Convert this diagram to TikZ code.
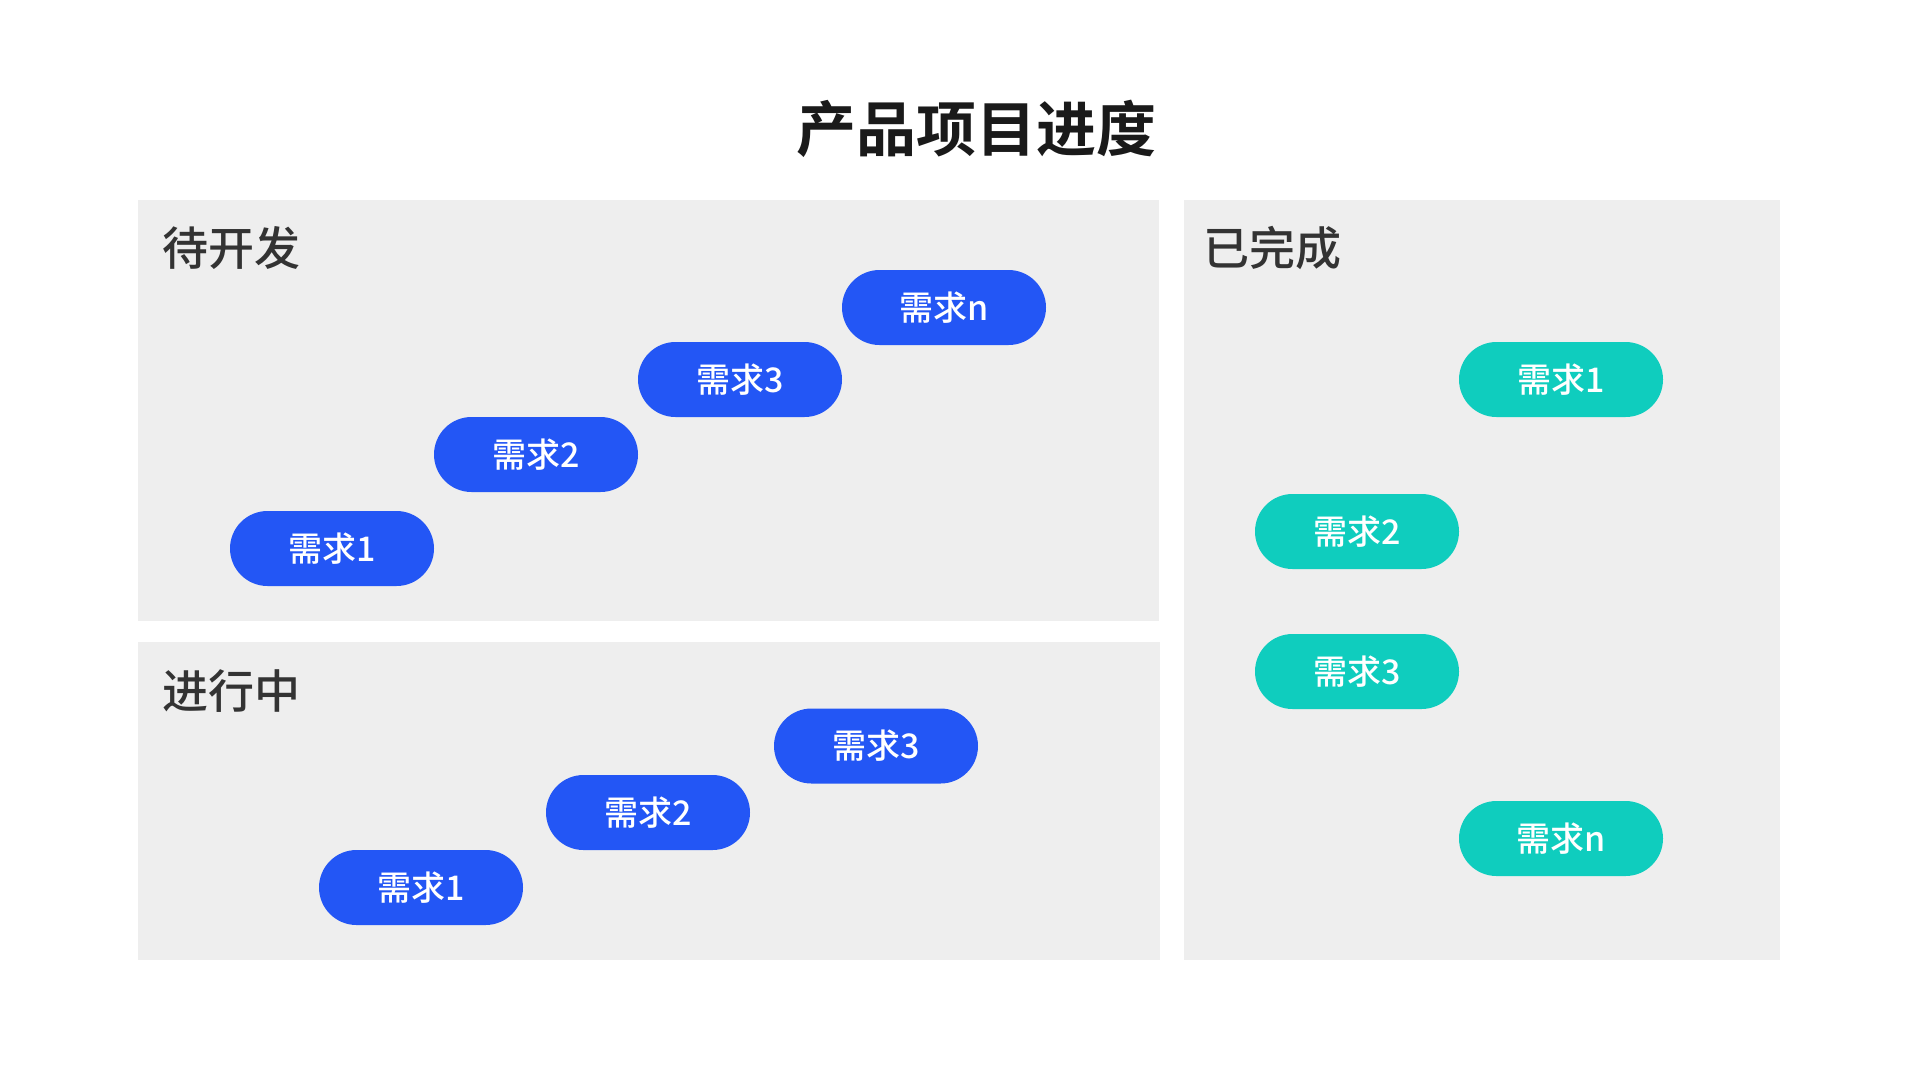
\documentclass[tikz,border=0pt]{standalone}
\usepackage{fontspec}
\setmainfont{Noto Sans CJK SC}[BoldFont={Noto Sans CJK SC Bold}]
\newfontfamily\cjkmed{Noto Sans CJK SC Medium}
\definecolor{panelgray}{HTML}{EEEEEE}
\definecolor{reqblue}{HTML}{2356F5}
\definecolor{reqteal}{HTML}{0FCDBE}
\definecolor{headgray}{HTML}{333333}
\definecolor{titleblack}{HTML}{1A1A1A}

\begin{document}
\begin{tikzpicture}[x=1pt,y=-1pt,
    req/.style={rectangle, rounded corners=37.5pt, minimum width=204pt,
      minimum height=75pt, inner sep=0pt, text=white,
      font=\cjkmed\fontsize{34}{34}\selectfont},
    todo/.style={req, fill=reqblue},
    done/.style={req, fill=reqteal},
    head/.style={anchor=west, inner sep=0pt, text=headgray,
      font=\cjkmed\fontsize{46}{46}\selectfont}]
    \useasboundingbox[fill=white] (0,0) rectangle (1920,1080);

    \node[inner sep=0pt, text=titleblack, font=\bfseries\fontsize{60}{60}\selectfont]
      (title) at (976,129) {产品项目进度};

    \fill[panelgray] (138,200) rectangle (1159,621);
    \fill[panelgray] (138,642) rectangle (1160,960);
    \fill[panelgray] (1184,200) rectangle (1780,960);

    \node[head] (dkf) at (162,248) {待开发};
    \node[head] (jxz) at (162,691) {进行中};
    \node[head] (ywc) at (1203,248) {已完成};

    \node[todo] (dk1) at (332,548.5) {需求1};
    \node[todo] (dk2) at (536,454.5) {需求2};
    \node[todo] (dk3) at (740,379.5) {需求3};
    \node[todo] (dkn) at (944,307.5) {需求n};

    \node[todo] (jx1) at (421,887.5) {需求1};
    \node[todo] (jx2) at (648,812.5) {需求2};
    \node[todo] (jx3) at (876,746) {需求3};

    \node[done] (wc1) at (1561,379.5) {需求1};
    \node[done] (wc2) at (1357,531.5) {需求2};
    \node[done] (wc3) at (1357,671.5) {需求3};
    \node[done] (wcn) at (1561,838.5) {需求n};
  \end{tikzpicture}
\end{document}
